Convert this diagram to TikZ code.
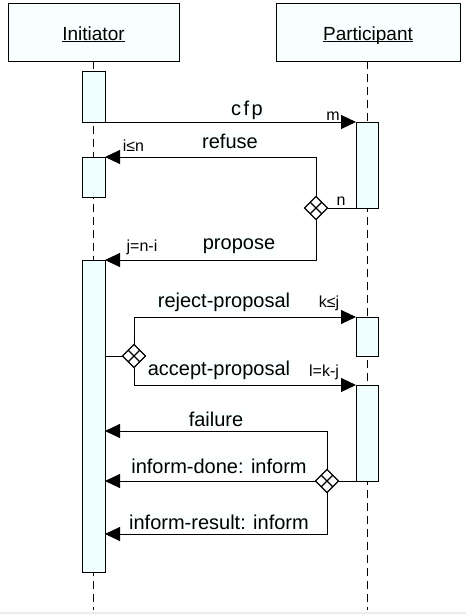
\documentclass[tikz,border=0pt]{standalone}
\usepackage{fontspec}
\setmainfont{Liberation Sans}
\usetikzlibrary{arrows.meta,shapes.geometric,calc,backgrounds}
\definecolor{actfill}{RGB}{240,255,255}
\definecolor{headfill}{RGB}{248,255,255}
\definecolor{lblfill}{RGB}{250,255,255}
\definecolor{stripgray}{RGB}{236,236,234}
\newcommand\myul[1]{\setbox0\hbox{#1}\rlap{\rule[-1.5pt]{\wd0}{0.9pt}}\box0}
\begin{document}
\begin{tikzpicture}[x=1pt,y=-1pt,
  head/.style={draw, fill=headfill, line width=0.9pt, inner sep=0pt, outer sep=0pt,
    text height=18pt, text depth=2pt, font=\fontsize{19}{22}\selectfont},
  life/.style={dash pattern=on 8pt off 5pt, line width=0.9pt},
  act/.style={draw, fill=actfill, line width=0.9pt, minimum width=23pt, inner sep=0pt, outer sep=0pt, anchor=north},
  msg/.style={line width=0.9pt},
  arr/.style={msg, -{Triangle[length=15pt,width=14pt]}},
  lbl/.style={font=\fontsize{20}{22}\selectfont, fill=lblfill, inner sep=1pt, anchor=base},
  sml/.style={font=\fontsize{16}{18}\selectfont, inner sep=0pt, anchor=base},
  choice/.style={diamond, draw, fill=white, line width=1.2pt, minimum width=23pt, minimum height=23pt,
    inner sep=0pt, outer sep=0pt, aspect=1,
    path picture={\draw[line width=1.2pt]
      ($(path picture bounding box.north)!0.5!(path picture bounding box.east)$) --
      ($(path picture bounding box.south)!0.5!(path picture bounding box.west)$)
      ($(path picture bounding box.north)!0.5!(path picture bounding box.west)$) --
      ($(path picture bounding box.south)!0.5!(path picture bounding box.east)$);}}
]
\useasboundingbox (0,0) rectangle (466,614);

% headers
\node[head, minimum width=171pt, minimum height=58pt] (h1) at (93.5,32) {\myul{Initiator}};
\node[head, minimum width=184pt, minimum height=58pt] (h2) at (368,32) {\myul{Participant}};

% activation boxes
\node[act, minimum height=51pt] (a1) at (93.5,71) {};
\node[act, minimum height=40pt] (a2) at (93.5,157) {};
\node[act, minimum height=312pt] (a3) at (93.5,260) {};
\node[act, minimum width=22pt, minimum height=86pt] (p1) at (367,122) {};
\node[act, minimum width=22pt, minimum height=39pt] (p2) at (367,317) {};
\node[act, minimum width=22pt, minimum height=96pt] (p3) at (367,385) {};

\coordinate (bot) at (0,610);
\coordinate (yfail) at (0,431);
\coordinate (yres) at (0,534);

% background and lifelines
\begin{scope}[on background layer]
\fill[white] (0,0) rectangle (466,614);
\fill[stripgray] (0,612) rectangle (466,614);
\draw[life] (h1.south) -- (h1.south |- bot);
\draw[life] (p1.north |- h2.south) -- (p1.north |- bot);
\end{scope}

% choice diamonds
\node[choice] (d1) at (316,208) {};
\node[choice] (d2) at (134,356) {};
\node[choice] (d3) at (327,481) {};

% messages
\draw[arr] (a1.south east) -- (p1.north west);
\draw[msg] (p1.south west) -- (d1.east);
\draw[arr] (d1.north) |- (a2.north east);
\draw[arr] (d1.south) |- (a3.north east);
\draw[msg] (a3.east |- d2.west) -- (d2.west);
\draw[arr] (d2.north) |- (p2.north west);
\draw[arr] (d2.south) |- (p3.north west);
\draw[msg] (p3.south west) -- (d3.east);
\draw[arr] (d3.north) |- (a3.east |- yfail);
\draw[arr] (d3.west) -- (a3.east |- d3.west);
\draw[arr] (d3.south) |- (a3.east |- yres);

% labels
\node[lbl] (lcfp) at (247,115) {c\hspace{2.5pt}f\hspace{2.5pt}p};
\node[sml] (lm) at (333,120) {m};
\node[lbl] (lref) at (230,148) {refuse};
\node[sml] (lin) at (133.5,151) {i≤n};
\node[sml] (ln) at (341,205) {n};
\node[lbl] (lprop) at (239,249) {propose};
\node[sml] (lj) at (142,251) {j=n-i};
\node[lbl] (lrej) at (224,307) {reject-proposal};
\node[sml] (lk) at (329,307) {k≤j};
\node[lbl] (lacc) at (219,375) {accept-proposal};
\node[sml] (ll) at (324,376) {l=k-j};
\node[lbl] (lfail) at (216,426) {failure};
\node[lbl] (ldone) at (219,473) {inform-done: inform};
\node[lbl] (lres) at (219,529) {inform-result: inform};
\end{tikzpicture}
\end{document}
